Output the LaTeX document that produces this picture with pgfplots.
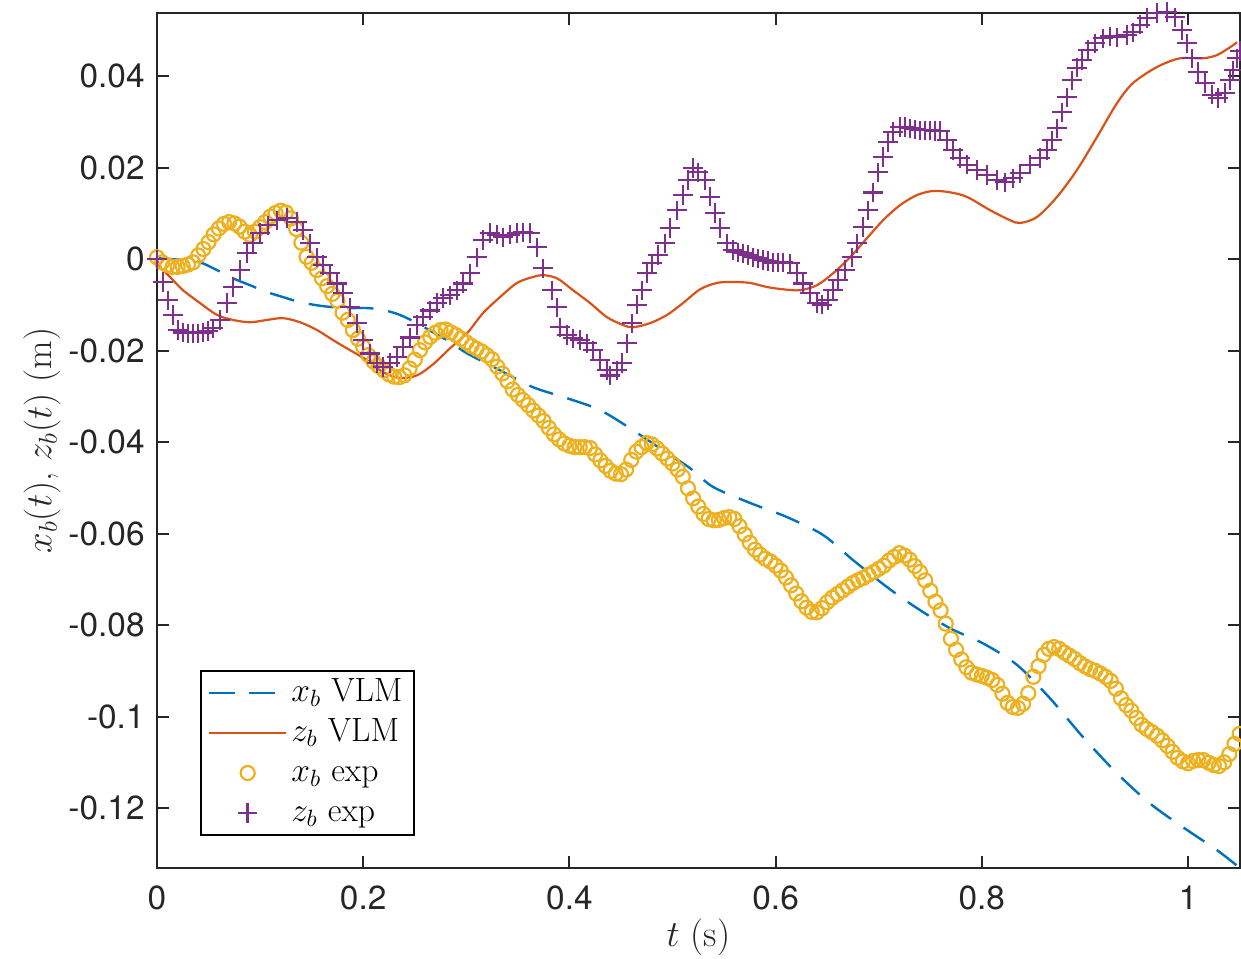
\RequirePackage{fix-cm}
\documentclass[border=0pt]{standalone}
\usepackage{fontspec}
\newfontfamily\helv{TeX Gyre Heros}
\usepackage{pgfplots}
\pgfplotsset{compat=1.18}
\definecolor{mblue}{rgb}{0,0.447,0.741}
\definecolor{morange}{rgb}{0.85,0.325,0.098}
\definecolor{myellow}{rgb}{0.929,0.694,0.125}
\definecolor{mpurple}{rgb}{0.494,0.184,0.556}
\definecolor{axgray}{rgb}{0.15,0.15,0.15}
\begin{document}
\begin{tikzpicture}
\path[use as bounding box] (-78.5pt,-45pt) rectangle (542pt,434pt);
\begin{axis}[
 at={(0,0)}, anchor=south west,
 scale only axis, width=541.5pt, height=427.5pt,
 xmin=0, xmax=1.0504, ymin=-0.1331, ymax=0.0538,
 xtick={0,0.2,0.4,0.6,0.8,1}, xticklabels={0,0.2,0.4,0.6,0.8,1},
 ytick={-0.12,-0.1,-0.08,-0.06,-0.04,-0.02,0,0.02,0.04},
 yticklabels={-0.12,-0.1,-0.08,-0.06,-0.04,-0.02,0,0.02,0.04},
 tick align=inside, major tick length=6pt,
 tick style={color=axgray, line width=1pt},
 axis line style={color=axgray, line width=1pt},
 ticklabel style={font=\helv\fontsize{16.7}{20}\selectfont, text=axgray},
 xticklabel style={anchor=north, inner sep=0pt, yshift=-8.5pt},
 yticklabel style={anchor=east, inner sep=0pt, xshift=-6pt},
 xlabel={$t$ (s)}, ylabel={$x_b(t)$, $z_b(t)$ (m)},
 label style={font=\fontsize{18.5}{22}\selectfont, text=axgray},
 xlabel style={at={(axis description cs:0.5,-0.081)}, anchor=center},
 ylabel style={at={(axis description cs:-0.106,0.5)}, anchor=center},
 clip=false,
 legend style={at={(axis description cs:0.0397,0.0374)}, anchor=south west, draw=black, line width=1pt, fill=white, font=\fontsize{16.8}{20}\selectfont, inner xsep=3.5pt, inner ysep=1pt, row sep=0pt, nodes={inner sep=2pt, text height=12pt, text depth=4pt}},
 legend cell align=left,
 legend image code/.code={\draw[mark repeat=2,mark phase=2,#1] plot coordinates {(0pt,0pt) (19.25pt,0pt) (38.5pt,0pt)};},
]
\addplot[mblue, line width=1.2pt, dash pattern=on 12.5pt off 7.5pt, smooth] coordinates {
(0,0.0002) (0.0252,-0.0002) (0.0417,-0.0007) (0.0582,-0.0024) (0.0737,-0.0042) (0.0902,-0.0057)
(0.1067,-0.0072) (0.1222,-0.0083) (0.1387,-0.0094) (0.1552,-0.0101) (0.1707,-0.0105) (0.1872,-0.0107)
(0.2037,-0.0107) (0.2192,-0.0111) (0.2357,-0.0122) (0.2522,-0.0140) (0.2677,-0.0160) (0.2842,-0.0181)
(0.3007,-0.0206) (0.3327,-0.0243) (0.3647,-0.0280) (0.3977,-0.0304) (0.4297,-0.0330) (0.4617,-0.0374)
(0.4947,-0.0424) (0.5170,-0.0457) (0.5393,-0.0498) (0.5752,-0.0533) (0.6111,-0.0564) (0.6460,-0.0603)
(0.6751,-0.0658) (0.7081,-0.0717) (0.7371,-0.0763) (0.7692,-0.0807) (0.8012,-0.0840) (0.8341,-0.0887)
(0.8661,-0.0960) (0.8982,-0.1045) (0.9311,-0.1124) (0.9631,-0.1190) (0.9952,-0.1242) (1.0281,-0.1292)
(1.0504,-0.1331)
};
\addlegendentry{$x_b$ VLM}
\addplot[morange, line width=1.1pt, smooth] coordinates {
(0,0) (0.0029,-0.0017) (0.0126,-0.0039) (0.0252,-0.0068) (0.0417,-0.0096) (0.0582,-0.0122)
(0.0737,-0.0133) (0.0902,-0.0138) (0.1067,-0.0133) (0.1222,-0.0129) (0.1387,-0.0138) (0.1552,-0.0155)
(0.1707,-0.0177) (0.1872,-0.0199) (0.2037,-0.0221) (0.2192,-0.0247) (0.2357,-0.0260) (0.2522,-0.0254)
(0.2677,-0.0230) (0.2842,-0.0195) (0.3007,-0.0162) (0.3162,-0.0118) (0.3327,-0.0083) (0.3492,-0.0052)
(0.3647,-0.0039) (0.3744,-0.0035) (0.3880,-0.0042) (0.4035,-0.0068) (0.4200,-0.0096) (0.4365,-0.0127)
(0.4520,-0.0144) (0.4617,-0.0149) (0.4782,-0.0140) (0.4947,-0.0122) (0.5102,-0.0096) (0.5267,-0.0066)
(0.5432,-0.0052) (0.5587,-0.0050) (0.5752,-0.0052) (0.5917,-0.0061) (0.6072,-0.0066) (0.6237,-0.0068)
(0.6402,-0.0057) (0.6557,-0.0031) (0.6722,0.0004) (0.6887,0.0046) (0.7042,0.0085) (0.7207,0.0118)
(0.7371,0.0140) (0.7527,0.0149) (0.7692,0.0146) (0.7856,0.0136) (0.8080,0.0107) (0.8274,0.0085)
(0.8371,0.0079) (0.8535,0.0092) (0.8729,0.0136) (0.8923,0.0195) (0.9117,0.0267) (0.9311,0.0341)
(0.9467,0.0385) (0.9699,0.0420) (0.9922,0.0439) (1.0145,0.0439) (1.0281,0.0446) (1.0407,0.0463)
(1.0475,0.0474)
};
\addlegendentry{$z_b$ VLM}
\addplot[only marks, mark=o, mark size=3.5pt, color=myellow, mark options={line width=1.1pt}] coordinates {
(0.000,0.0004) (0.005,-0.0007) (0.010,-0.0013) (0.015,-0.0017) (0.020,-0.0017) (0.025,-0.0015)
(0.030,-0.0012) (0.035,-0.0007) (0.040,0.0008) (0.045,0.0022) (0.050,0.0037) (0.055,0.0054)
(0.060,0.0067) (0.065,0.0077) (0.070,0.0081) (0.075,0.0078) (0.080,0.0071) (0.085,0.0060)
(0.090,0.0053) (0.095,0.0060) (0.100,0.0070) (0.105,0.0081) (0.110,0.0093) (0.115,0.0101)
(0.120,0.0106) (0.125,0.0102) (0.130,0.0089) (0.135,0.0066) (0.140,0.0036) (0.145,0.0005)
(0.150,-0.0008) (0.155,-0.0024) (0.160,-0.0042) (0.165,-0.0059) (0.170,-0.0076) (0.175,-0.0091)
(0.180,-0.0117) (0.185,-0.0133) (0.190,-0.0155) (0.195,-0.0174) (0.200,-0.0192) (0.205,-0.0210)
(0.210,-0.0224) (0.215,-0.0234) (0.220,-0.0243) (0.225,-0.0252) (0.230,-0.0257) (0.235,-0.0258)
(0.240,-0.0254) (0.245,-0.0239) (0.250,-0.0220) (0.255,-0.0199) (0.260,-0.0182) (0.265,-0.0170)
(0.270,-0.0161) (0.275,-0.0155) (0.280,-0.0154) (0.285,-0.0160) (0.290,-0.0166) (0.295,-0.0174)
(0.300,-0.0182) (0.305,-0.0190) (0.310,-0.0196) (0.315,-0.0202) (0.320,-0.0210) (0.325,-0.0219)
(0.330,-0.0235) (0.335,-0.0250) (0.340,-0.0267) (0.345,-0.0285) (0.350,-0.0297) (0.355,-0.0308)
(0.360,-0.0319) (0.365,-0.0331) (0.370,-0.0342) (0.375,-0.0354) (0.380,-0.0369) (0.385,-0.0383)
(0.390,-0.0394) (0.395,-0.0403) (0.400,-0.0408) (0.405,-0.0411) (0.410,-0.0411) (0.415,-0.0411)
(0.420,-0.0413) (0.425,-0.0427) (0.430,-0.0440) (0.435,-0.0452) (0.440,-0.0463) (0.445,-0.0469)
(0.450,-0.0470) (0.455,-0.0460) (0.460,-0.0439) (0.465,-0.0421) (0.470,-0.0411) (0.475,-0.0402)
(0.480,-0.0405) (0.485,-0.0414) (0.490,-0.0425) (0.495,-0.0436) (0.500,-0.0447) (0.505,-0.0460)
(0.510,-0.0476) (0.515,-0.0501) (0.520,-0.0523) (0.525,-0.0541) (0.530,-0.0557) (0.535,-0.0568)
(0.540,-0.0571) (0.545,-0.0570) (0.550,-0.0566) (0.555,-0.0564) (0.560,-0.0568) (0.565,-0.0584)
(0.570,-0.0602) (0.575,-0.0620) (0.580,-0.0635) (0.585,-0.0646) (0.590,-0.0655) (0.595,-0.0661)
(0.600,-0.0670) (0.605,-0.0681) (0.610,-0.0696) (0.615,-0.0713) (0.620,-0.0731) (0.625,-0.0748)
(0.630,-0.0762) (0.635,-0.0771) (0.640,-0.0772) (0.645,-0.0763) (0.650,-0.0750) (0.655,-0.0740)
(0.660,-0.0732) (0.665,-0.0724) (0.670,-0.0716) (0.675,-0.0708) (0.680,-0.0702) (0.685,-0.0697)
(0.690,-0.0690) (0.695,-0.0684) (0.700,-0.0677) (0.705,-0.0670) (0.710,-0.0659) (0.715,-0.0651)
(0.720,-0.0643) (0.725,-0.0648) (0.730,-0.0657) (0.735,-0.0671) (0.740,-0.0684) (0.745,-0.0702)
(0.750,-0.0725) (0.755,-0.0749) (0.760,-0.0768) (0.765,-0.0797) (0.770,-0.0830) (0.775,-0.0854)
(0.780,-0.0875) (0.785,-0.0892) (0.790,-0.0904) (0.795,-0.0908) (0.800,-0.0911) (0.805,-0.0915)
(0.810,-0.0920) (0.815,-0.0931) (0.820,-0.0950) (0.825,-0.0970) (0.830,-0.0979) (0.835,-0.0981)
(0.840,-0.0972) (0.845,-0.0949) (0.850,-0.0913) (0.855,-0.0890) (0.860,-0.0865) (0.865,-0.0852)
(0.870,-0.0848) (0.875,-0.0852) (0.880,-0.0860) (0.885,-0.0867) (0.890,-0.0874) (0.895,-0.0883)
(0.900,-0.0890) (0.905,-0.0896) (0.910,-0.0900) (0.915,-0.0906) (0.920,-0.0913) (0.925,-0.0922)
(0.930,-0.0939) (0.935,-0.0960) (0.940,-0.0975) (0.945,-0.0987) (0.950,-0.1003) (0.955,-0.1018)
(0.960,-0.1027) (0.965,-0.1034) (0.970,-0.1042) (0.975,-0.1052) (0.980,-0.1064) (0.985,-0.1077)
(0.990,-0.1090) (0.995,-0.1098) (1.000,-0.1102) (1.005,-0.1097) (1.010,-0.1095) (1.015,-0.1095)
(1.020,-0.1101) (1.025,-0.1106) (1.030,-0.1108) (1.035,-0.1100) (1.040,-0.1082) (1.045,-0.1060)
(1.050,-0.1038)
};
\addlegendentry{$x_b$ exp}
\addplot[only marks, mark=+, mark size=4.8pt, color=mpurple, mark options={line width=1.2pt}] coordinates {
(0,0) (0.0058,-0.0050) (0.0107,-0.0090) (0.0155,-0.0122) (0.0204,-0.0155) (0.0252,-0.0160)
(0.0301,-0.0162) (0.0349,-0.0162) (0.0398,-0.0162) (0.0446,-0.0160) (0.0495,-0.0157) (0.0543,-0.0151)
(0.0611,-0.0133) (0.0679,-0.0096) (0.0737,-0.0061) (0.0805,-0.0024) (0.0873,0.0013) (0.0931,0.0035)
(0.0999,0.0057) (0.1077,0.0074) (0.1164,0.0085) (0.1261,0.0090) (0.1358,0.0081) (0.1416,0.0063)
(0.1484,0.0035) (0.1552,0.0004) (0.1610,-0.0013) (0.1678,-0.0031) (0.1746,-0.0053) (0.1804,-0.0074)
(0.1872,-0.0105) (0.1940,-0.0140) (0.1998,-0.0177) (0.2066,-0.0206) (0.2134,-0.0227) (0.2192,-0.0236)
(0.2260,-0.0227) (0.2328,-0.0214) (0.2386,-0.0192) (0.2454,-0.0171) (0.2522,-0.0144) (0.2580,-0.0127)
(0.2648,-0.0112) (0.2716,-0.0096) (0.2774,-0.0085) (0.2842,-0.0079) (0.2910,-0.0068) (0.2968,-0.0053)
(0.3036,-0.0031) (0.3104,0.0004) (0.3162,0.0042) (0.3230,0.0057) (0.3298,0.0053) (0.3356,0.0048)
(0.3424,0.0053) (0.3492,0.0057) (0.3550,0.0059) (0.3618,0.0057) (0.3686,0.0026) (0.3744,-0.0020)
(0.3831,-0.0068) (0.3880,-0.0105) (0.3909,-0.0149) (0.3977,-0.0166) (0.4035,-0.0173) (0.4103,-0.0177)
(0.4171,-0.0184) (0.4229,-0.0199) (0.4297,-0.0221) (0.4365,-0.0243) (0.4394,-0.0254) (0.4462,-0.0243)
(0.4510,-0.0227) (0.4559,-0.0184) (0.4607,-0.0140) (0.4656,-0.0100) (0.4704,-0.0068) (0.4753,-0.0031)
(0.4801,-0.0009) (0.4859,0.0009) (0.4927,0.0035) (0.4976,0.0068) (0.5044,0.0107) (0.5102,0.0140)
(0.5150,0.0173) (0.5199,0.0199) (0.5247,0.0190) (0.5315,0.0173) (0.5364,0.0136) (0.5412,0.0101)
(0.5461,0.0068) (0.5529,0.0035) (0.5587,0.0020) (0.5635,0.0015) (0.5684,0.0013) (0.5732,0.0009)
(0.5781,0.0004) (0.5829,0.0002) (0.5878,-0.0002) (0.5926,-0.0004) (0.5975,-0.0007) (0.6023,-0.0007)
(0.6072,-0.0007) (0.6140,-0.0009) (0.6208,-0.0031) (0.6266,-0.0053) (0.6334,-0.0074) (0.6402,-0.0096)
(0.6450,-0.0100) (0.6508,-0.0090) (0.6557,-0.0068) (0.6605,-0.0046) (0.6673,-0.0024) (0.6741,0.0004)
(0.6790,0.0035) (0.6848,0.0070) (0.6896,0.0107) (0.6945,0.0146) (0.6993,0.0190) (0.7042,0.0223)
(0.7090,0.0256) (0.7139,0.0278) (0.7207,0.0289) (0.7255,0.0289) (0.7304,0.0286) (0.7352,0.0284)
(0.7400,0.0282) (0.7449,0.0282) (0.7498,0.0282) (0.7546,0.0280) (0.7595,0.0280) (0.7662,0.0260)
(0.7721,0.0238) (0.7789,0.0221) (0.7856,0.0206) (0.7953,0.0195) (0.8050,0.0184) (0.8147,0.0173)
(0.8225,0.0168) (0.8303,0.0177) (0.8371,0.0188) (0.8468,0.0206) (0.8565,0.0221) (0.8632,0.0238)
(0.8681,0.0260) (0.8729,0.0286) (0.8778,0.0321) (0.8826,0.0354) (0.8875,0.0391) (0.8923,0.0418)
(0.8972,0.0435) (0.9030,0.0457) (0.9098,0.0472) (0.9176,0.0483) (0.9243,0.0487) (0.9311,0.0485)
(0.9408,0.0490) (0.9467,0.0496) (0.9535,0.0512) (0.9602,0.0527) (0.9699,0.0538) (0.9796,0.0540)
(0.9874,0.0529) (0.9942,0.0501) (0.9990,0.0472) (1.0039,0.0439) (1.0097,0.0409) (1.0165,0.0385)
(1.0233,0.0359) (1.0291,0.0352) (1.0359,0.0363) (1.0407,0.0391) (1.0437,0.0413) (1.0475,0.0439)
(1.0504,0.0455)
};
\addlegendentry{$z_b$ exp}
\end{axis}
\end{tikzpicture}
\end{document}
